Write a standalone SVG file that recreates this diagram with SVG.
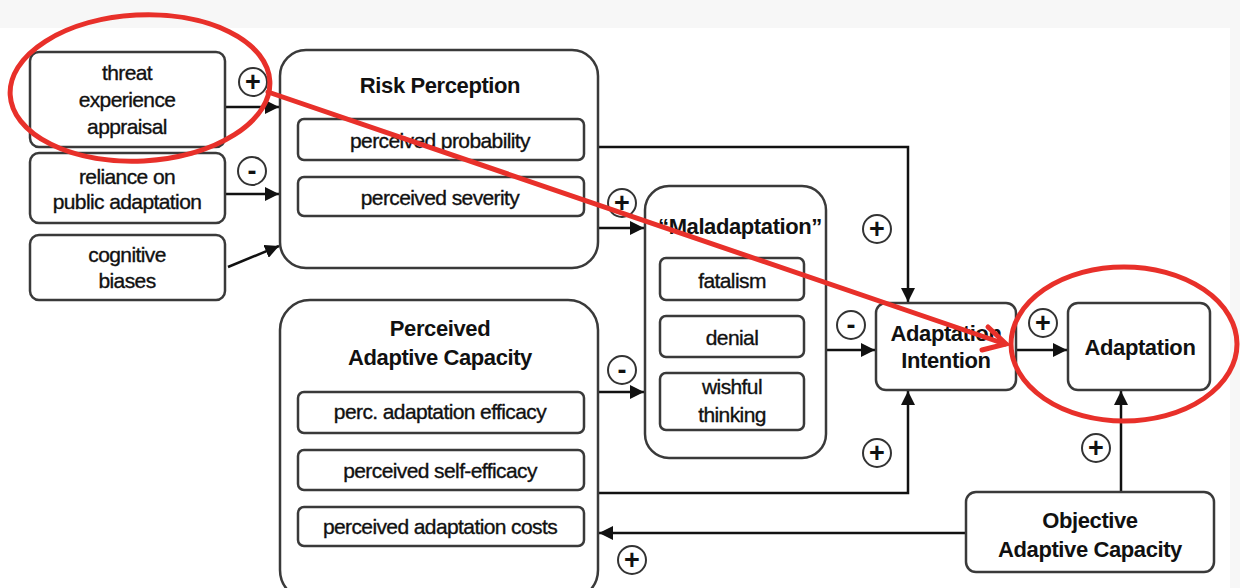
<svg xmlns="http://www.w3.org/2000/svg" width="1240" height="588" viewBox="0 0 1240 588">
<defs>
<marker id="ah" viewBox="0 0 10 10" refX="10" refY="5" markerWidth="14" markerHeight="14" markerUnits="userSpaceOnUse" orient="auto">
<path d="M0,0 L10,5 L0,10 z" fill="#111"/>
</marker>
<style>
.box{fill:#fff;stroke:#3a3a3a;stroke-width:2.5}
.t{font-family:"Liberation Sans",Arial,sans-serif;font-size:21px;fill:#111;stroke:#111;stroke-width:0.35;text-anchor:middle;letter-spacing:-0.6px}
.b{font-family:"Liberation Sans",Arial,sans-serif;font-size:22px;font-weight:bold;fill:#111;text-anchor:middle;letter-spacing:-0.4px}
.c{fill:none;stroke:#111;stroke-width:2.5}
.sg{fill:#fff;stroke:#333;stroke-width:2}
.s{font-family:"Liberation Sans",Arial,sans-serif;font-size:27px;font-weight:bold;fill:#111;text-anchor:middle}
.red{fill:none;stroke:#e8302a;stroke-width:5;stroke-linecap:round}
</style>
</defs>
<rect width="1240" height="588" fill="#f7f7f7"/>
<rect x="0" y="28" width="1230" height="560" fill="#fff"/>

<g id="connectors">
<line class="c" x1="225" y1="107" x2="279" y2="107" marker-end="url(#ah)"/>
<line class="c" x1="225" y1="194" x2="279" y2="194" marker-end="url(#ah)"/>
<line class="c" x1="228" y1="267" x2="279" y2="246" marker-end="url(#ah)"/>
<polyline class="c" points="598,147 908,147 908,302" marker-end="url(#ah)"/>
<line class="c" x1="598" y1="228" x2="644" y2="228" marker-end="url(#ah)"/>
<line class="c" x1="598" y1="392" x2="644" y2="392" marker-end="url(#ah)"/>
<line class="c" x1="826" y1="350" x2="875" y2="350" marker-end="url(#ah)"/>
<polyline class="c" points="598,493 908,493 908,391" marker-end="url(#ah)"/>
<line class="c" x1="1016" y1="350" x2="1067" y2="350" marker-end="url(#ah)"/>
<line class="c" x1="1121" y1="492" x2="1121" y2="391" marker-end="url(#ah)"/>
<line class="c" x1="966" y1="533" x2="599" y2="533" marker-end="url(#ah)"/>
</g>

<g id="signs">
<circle class="sg" cx="253" cy="82" r="14"/><text class="s" x="253" y="91">+</text>
<circle class="sg" cx="252" cy="171" r="14"/><text class="s" x="252" y="180">-</text>
<circle class="sg" cx="622" cy="203" r="14"/><text class="s" x="622" y="212">+</text>
<circle class="sg" cx="622" cy="370" r="14"/><text class="s" x="622" y="379">-</text>
<circle class="sg" cx="877" cy="229" r="14"/><text class="s" x="877" y="238">+</text>
<circle class="sg" cx="851" cy="325" r="14"/><text class="s" x="851" y="334">-</text>
<circle class="sg" cx="877" cy="453" r="14"/><text class="s" x="877" y="462">+</text>
<circle class="sg" cx="1043" cy="323" r="14"/><text class="s" x="1043" y="332">+</text>
<circle class="sg" cx="1096" cy="448" r="14"/><text class="s" x="1096" y="457">+</text>
<circle class="sg" cx="632" cy="560" r="14"/><text class="s" x="632" y="569">+</text>
</g>

<g id="threat">
<rect class="box" x="30" y="52" width="195" height="95" rx="9"/>
<text class="t" x="127" y="80">threat</text>
<text class="t" x="127" y="107">experience</text>
<text class="t" x="127" y="134">appraisal</text>
</g>
<g id="reliance">
<rect class="box" x="30" y="153" width="195" height="70" rx="9"/>
<text class="t" x="127" y="184">reliance on</text>
<text class="t" x="127" y="209">public adaptation</text>
</g>
<g id="cognitive">
<rect class="box" x="30" y="235" width="195" height="65" rx="9"/>
<text class="t" x="127" y="262">cognitive</text>
<text class="t" x="127" y="288">biases</text>
</g>

<g id="risk">
<rect class="box" x="280" y="50" width="318" height="218" rx="26"/>
<text class="b" x="440" y="93">Risk Perception</text>
<rect class="box" x="298" y="119" width="286" height="41" rx="6"/>
<text class="t" x="440" y="148">perceived probability</text>
<rect class="box" x="298" y="177" width="286" height="39" rx="6"/>
<text class="t" x="440" y="205">perceived severity</text>
</g>

<g id="maladaptation">
<rect class="box" x="645" y="186" width="181" height="272" rx="24"/>
<text class="b" x="740" y="234">“Maladaptation”</text>
<rect class="box" x="660" y="258" width="144" height="42" rx="6"/>
<text class="t" x="732" y="288">fatalism</text>
<rect class="box" x="660" y="316" width="144" height="41" rx="6"/>
<text class="t" x="732" y="345">denial</text>
<rect class="box" x="660" y="373" width="144" height="57" rx="6"/>
<text class="t" x="732" y="394">wishful</text>
<text class="t" x="732" y="422">thinking</text>
</g>

<g id="pac">
<rect class="box" x="280" y="300" width="318" height="300" rx="30"/>
<text class="b" x="440" y="336">Perceived</text>
<text class="b" x="440" y="365">Adaptive Capacity</text>
<rect class="box" x="298" y="392" width="286" height="41" rx="6"/>
<text class="t" x="440" y="419">perc. adaptation efficacy</text>
<rect class="box" x="298" y="450" width="286" height="40" rx="6"/>
<text class="t" x="440" y="478">perceived self-efficacy</text>
<rect class="box" x="298" y="507" width="286" height="39" rx="6"/>
<text class="t" x="440" y="534">perceived adaptation costs</text>
</g>

<g id="intention">
<rect class="box" x="876" y="303" width="140" height="87" rx="10"/>
<text class="b" x="946" y="341">Adaptation</text>
<text class="b" x="946" y="368">Intention</text>
</g>

<g id="adaptation">
<rect class="box" x="1068" y="303" width="142" height="87" rx="10"/>
<text class="b" x="1140" y="355">Adaptation</text>
</g>

<g id="oac">
<rect class="box" x="966" y="492" width="248" height="80" rx="10"/>
<text class="b" x="1090" y="528">Objective</text>
<text class="b" x="1090" y="557">Adaptive Capacity</text>
</g>

<g id="annotations">
<ellipse class="red" cx="140" cy="88" rx="130" ry="73" transform="rotate(-3 140 88)"/>
<ellipse class="red" cx="1124" cy="344" rx="113" ry="77"/>
<line class="red" x1="268" y1="92" x2="1005" y2="344"/>
<polyline class="red" points="988,327 1006,344 982,350"/>
</g>
</svg>
